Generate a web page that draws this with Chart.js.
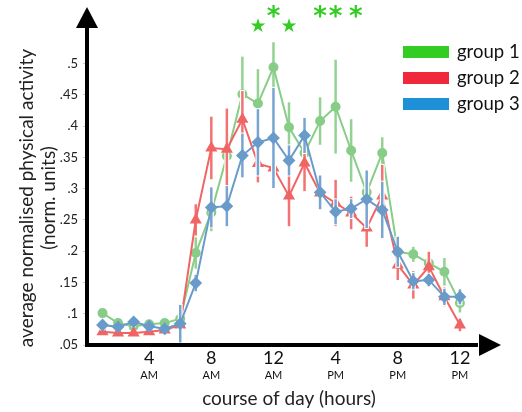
<!DOCTYPE html>
<html>
<head>
<meta charset="utf-8">
<script src="https://cdn.jsdelivr.net/npm/chart.js@4/dist/chart.umd.min.js"></script>
<style>
  body { margin: 0; background: #fff; }
  #wrap { width: 522px; height: 412px; position: relative; }
</style>
</head>
<body>
<div id="wrap"><canvas id="activity-chart"></canvas></div>
<script>
// hour of day, 1 = 1 AM ... 24 = midnight
var hours = [1, 2, 3, 4, 5, 6, 7, 8, 9, 10, 11, 12, 13, 14, 15, 16, 17, 18, 19, 20, 21, 22, 23, 24]

var group1 = [0.101, 0.085, 0.080, 0.083, 0.085, 0.092, 0.197, 0.262, 0.352, 0.451, 0.436, 0.494,
              0.398, 0.357, 0.408, 0.431, 0.361, 0.294, 0.357, 0.199, 0.195, 0.181, 0.167, 0.117]
var group2 = [0.071, 0.069, 0.069, 0.071, 0.074, 0.082, 0.250, 0.365, 0.363, 0.411, 0.340, 0.333,
              0.288, 0.341, 0.293, 0.277, 0.261, 0.237, 0.288, 0.178, 0.146, 0.175, 0.127, 0.082]
var group3 = [0.082, 0.079, 0.087, 0.080, 0.076, 0.084, 0.149, 0.270, 0.272, 0.353, 0.374, 0.381,
              0.345, 0.385, 0.294, 0.263, 0.268, 0.283, 0.266, 0.199, 0.152, 0.154, 0.127, 0.127]

// error bar half lengths
var err1 = [0.005, 0.004, 0.004, 0.004, 0.004, 0.006, 0.025, 0.030, 0.030, 0.060, 0.055, 0.040,
            0.040, 0.030, 0.038, 0.075, 0.050, 0.030, 0.025, 0.015, 0.012, 0.010, 0.022, 0.015]
var err2 = [0.005, 0.004, 0.004, 0.004, 0.004, 0.008, 0.025, 0.050, 0.065, 0.045, 0.030, 0.030,
            0.048, 0.045, 0.020, 0.037, 0.026, 0.030, 0.050, 0.024, 0.022, 0.024, 0.015, 0.010]
var err3 = [0.007, 0.005, 0.007, 0.005, 0.005, 0.030, 0.013, 0.032, 0.032, 0.035, 0.053, 0.080,
            0.024, 0.028, 0.027, 0.020, 0.015, 0.046, 0.045, 0.024, 0.013, 0.010, 0.013, 0.012]

var groupNames = ['group 1', 'group 2', 'group 3']

var yTicks = [0.05, 0.1, 0.15, 0.2, 0.25, 0.3, 0.35, 0.4, 0.45, 0.5]
var xTicks = [4, 8, 12, 16, 20, 24]
var xTickLabels = ['4', '8', '12', '4', '8', '12']
var xTickSuffix = ['AM', 'AM', 'AM', 'PM', 'PM', 'PM']

// significance marks above the curves
var sigHours = [11, 12, 13, 15, 16, 17.3]
var sigMarks = ['★', '*', '★', '*', '*', '*']

var FONT = 'Lato, "Open Sans", sans-serif'
var lineColors = ['rgb(135, 205, 135)', 'rgb(240, 100, 100)', 'rgb(105, 155, 202)']
var barColors = ['rgba(135, 205, 135, 0.9)', 'rgba(240, 100, 100, 0.9)', 'rgba(105, 155, 202, 0.9)']
var legendColors = ['#33cc22', '#f0283c', '#1e90d8']
var allErr = [err1, err2, err3]

function toXY(vals) {
  return vals.map(function (v, i) { return { x: hours[i], y: v } })
}

var decorPlugin = {
  id: 'decor',
  beforeDatasetDraw: function (chart, args) {
    var ctx = chart.ctx
    var xs = chart.scales.x, ys = chart.scales.y
    var ds = chart.data.datasets[args.index]
    var err = allErr[args.index]
    ctx.save()
    ctx.lineCap = 'butt'
    ds.data.forEach(function (p, i) {
      var px = xs.getPixelForValue(p.x)
      var top = ys.getPixelForValue(p.y + err[i])
      var bot = ys.getPixelForValue(p.y - err[i])
      ctx.strokeStyle = '#fff'
      ctx.lineWidth = 5
      ctx.beginPath(); ctx.moveTo(px, top - 1); ctx.lineTo(px, bot + 1); ctx.stroke()
      ctx.strokeStyle = barColors[args.index]
      ctx.lineWidth = 2.5
      ctx.beginPath(); ctx.moveTo(px, top); ctx.lineTo(px, bot); ctx.stroke()
    })
    ctx.restore()
  },
  afterDraw: function (chart) {
    var ctx = chart.ctx
    var ca = chart.chartArea
    var xs = chart.scales.x
    ctx.save()
    // axes with arrow heads
    ctx.fillStyle = '#000'
    ctx.fillRect(ca.left - 2, 22, 4, ca.bottom - 20)
    ctx.fillRect(ca.left - 2, ca.bottom - 2, 480 - ca.left, 4)
    ctx.beginPath()
    ctx.moveTo(ca.left, 7); ctx.lineTo(ca.left + 11, 28); ctx.lineTo(ca.left - 11, 28); ctx.closePath()
    ctx.fill()
    ctx.beginPath()
    ctx.moveTo(501, ca.bottom); ctx.lineTo(479, ca.bottom - 11); ctx.lineTo(479, ca.bottom + 11); ctx.closePath()
    ctx.fill()

    // significance stars
    ctx.fillStyle = '#33cc22'
    ctx.textAlign = 'center'
    ctx.textBaseline = 'middle'
    sigHours.forEach(function (h, i) {
      var px = xs.getPixelForValue(h)
      if (sigMarks[i] === '★') {
        ctx.font = '19px "DejaVu Sans"'
        ctx.fillText(sigMarks[i], px, 27)
      } else {
        ctx.font = 'bold 26px "DejaVu Sans"'
        ctx.fillText(sigMarks[i], px, 18)
      }
    })

    // legend
    ctx.textAlign = 'left'
    chart.data.datasets.forEach(function (ds, i) {
      var top = 46 + i * 26
      ctx.fillStyle = legendColors[i]
      ctx.fillRect(403, top, 46, 12)
      ctx.fillStyle = '#111'
      ctx.font = '18.5px ' + FONT
      ctx.fillText(ds.label, 457, top + 6)
    })
    ctx.restore()
  }
}

var ctx = document.getElementById('activity-chart').getContext('2d')
var activityChart = new Chart(ctx, {
  type: 'line',
  data: {
    datasets: [
      {
        label: groupNames[0],
        data: toXY(group1),
        borderColor: lineColors[0],
        backgroundColor: lineColors[0],
        pointStyle: 'circle',
        pointRadius: 4,
        borderWidth: 2,
        order: 2
      },
      {
        label: groupNames[1],
        data: toXY(group2),
        borderColor: lineColors[1],
        backgroundColor: lineColors[1],
        pointStyle: 'triangle',
        pointRadius: 5,
        borderWidth: 2,
        order: 1
      },
      {
        label: groupNames[2],
        data: toXY(group3),
        borderColor: lineColors[2],
        backgroundColor: lineColors[2],
        pointStyle: 'rectRot',
        pointRadius: 5,
        borderWidth: 2,
        order: 0
      }
    ]
  },
  options: {
    responsive: true,
    maintainAspectRatio: false,
    animation: false,
    clip: false,
    layout: { padding: { top: 51, right: 31, left: 0, bottom: 0 } },
    plugins: {
      legend: { display: false },
      tooltip: { enabled: false }
    },
    elements: { line: { tension: 0 }, point: { borderWidth: 0 } },
    scales: {
      x: {
        type: 'linear',
        position: 'bottom',
        min: 0,
        max: 26,
        afterFit: function (s) { s.height = 24 },
        afterBuildTicks: function (s) { s.ticks = xTicks.map(function (v) { return { value: v } }) },
        ticks: {
          callback: function (v, i) { return xTickLabels[i] },
          font: { family: FONT, size: 18 },
          color: '#111',
          padding: 2,
          maxRotation: 0
        },
        grid: { drawOnChartArea: false, drawTicks: false },
        border: { display: false }
      },
      x2: {
        type: 'linear',
        position: 'bottom',
        min: 0,
        max: 26,
        afterFit: function (s) { s.height = 43 },
        afterBuildTicks: function (s) { s.ticks = xTicks.map(function (v) { return { value: v } }) },
        ticks: {
          callback: function (v, i) { return xTickSuffix[i] },
          font: { family: FONT, size: 11 },
          color: '#111',
          padding: 0,
          maxRotation: 0
        },
        grid: { display: false, drawTicks: false },
        border: { display: false },
        title: {
          display: true,
          text: 'course of day (hours)',
          font: { family: FONT, size: 19 },
          color: '#222',
          padding: { top: 0, bottom: 2 }
        }
      },
      y: {
        type: 'linear',
        min: 0.05,
        max: 0.52,
        afterFit: function (s) { s.width = 87 },
        afterBuildTicks: function (s) { s.ticks = yTicks.map(function (v) { return { value: v } }) },
        ticks: {
          callback: function (v) { return String(+v.toFixed(2)).replace(/^0/, '') },
          font: { family: FONT, size: 13 },
          color: '#222',
          padding: 5
        },
        grid: { drawOnChartArea: false, tickLength: 4, color: '#ccc' },
        border: { display: false },
        title: {
          display: true,
          text: ['average normalised physical activity', '(norm. units)'],
          font: { family: FONT, size: 19 },
          color: '#222',
          padding: { top: 15, bottom: 0 }
        }
      }
    }
  },
  plugins: [decorPlugin]
})
</script>
</body>
</html>
